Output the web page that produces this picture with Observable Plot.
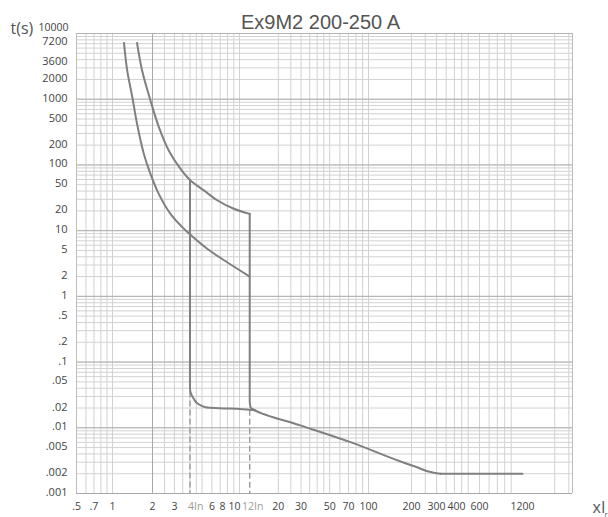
<!DOCTYPE html>
<html><head><meta charset="utf-8">
<script src="https://cdn.jsdelivr.net/npm/d3@7"></script>
<script src="https://cdn.jsdelivr.net/npm/@observablehq/plot@0.6"></script>
<style>body{margin:0;background:#fff}#chart svg{display:block}</style>
</head><body><div id="chart"></div>
<script>
const title = "Ex9M2 200-250 A";
const yUnit = "t(s)";
const xUnit = "xI";
const xUnitSub = "r";

// Thermal (min) curve: multiples of In, trip time in s
const thermalMinX = [1.22, 1.29, 1.41, 1.53, 1.72, 1.93, 2.25, 2.79, 3.47, 4.1, 5.5, 7.96, 12];
const thermalMinT = [7200, 2740, 1070, 423, 148, 73, 36, 18, 11.3, 8.4, 5.3, 3.3, 2];
// Thermal (max) curve
const thermalMaxX = [1.53, 1.67, 1.93, 2.25, 2.7, 3.36, 4, 5.17, 6.62, 9, 12];
const thermalMaxT = [7200, 2740, 957, 376, 166, 87, 59, 41, 29, 21.5, 18];
// Magnetic at 12In then instantaneous tail
const magHighX = [12, 12, 12.17, 13.3, 30, 72.5, 168, 219, 287, 320];
const magHighT = [18, 0.026, 0.0206, 0.0183, 0.0108, 0.00604, 0.00307, 0.00251, 0.00207, 0.002];
// Flat tail
const tailX = [320, 1200];
const tailT = [0.002, 0.002];
// Magnetic at 4In
const magLowX = [4, 4, 4.29, 4.6, 5.33, 12, 13.3];
const magLowT = [59, 0.04, 0.0276, 0.0234, 0.0206, 0.0188, 0.0183];
// Dashed guides
const guideX = [4, 12];
const guideTopT = [0.035, 0.0185];
const guideBottomT = [0.001, 0.001];

// Axis ticks
const xTicks = [0.5, 0.7, 1, 2, 3, 6, 20, 30, 50, 70, 100, 200, 300, 600, 1200];
const xTickLabels = [".5", ".7", "1", "2", "3", "6", "20", "30", "50", "70", "100", "200", "300", "600", "1200"];
const xTicksTight = [8, 10];
const xTicksTightLabels = ["8", "10"];
const xTicksWide = [400];
const xTicksWideLabels = ["400"];
const in4Tick = [4];
const in4Label = ["4In"];
const in12Tick = [12];
const in12Label = ["12In"];
const yTicks = [7200, 3600, 2000, 1000, 500, 200, 100, 50, 20, 10, 5, 2, 1, 0.5, 0.2, 0.1, 0.05, 0.02, 0.01, 0.005, 0.002, 0.001];
const yTickLabels = ["7200", "3600", "2000", "1000", "500", "200", "100", "50", "20", "10", "5", "2", "1", ".5", ".2", ".1", ".05", ".02", ".01", ".005", ".002", ".001"];
const yTopTick = [10000];
const yTopTickLabel = ["10000"];

// Grid
const xGridMultiples = [1, 2, 2.5, 3, 3.5, 4, 4.5, 5, 6, 7, 8, 9];
const xGridDecades = [0.1, 1, 10, 100, 1000];
const xMajorGrid = [2];
const yGridMultiples = [1, 2, 3, 4, 5, 6, 7, 8, 9];
const yGridDecades = [0.001, 0.01, 0.1, 1, 10, 100, 1000];
const yMajorGrid = [0.001, 0.01, 0.1, 1, 10, 100, 1000, 10000];

const xMin = 0.5, xMax = 2650;
const xGrid = xGridDecades.flatMap(d => xGridMultiples.map(m => +(m * d).toPrecision(6)))
  .filter(v => v >= xMin && v <= xMax);
const yGrid = yGridDecades.flatMap(d => yGridMultiples.map(m => +(m * d).toPrecision(6))).concat([10000]);

const pts = (xs, ts) => xs.map((x, i) => ({x, t: ts[i]}));
const lab = (vs, ls) => vs.map((v, i) => ({v, label: ls[i]}));
const minCurve = pts(thermalMinX, thermalMinT);
const maxCurve = pts(thermalMaxX, thermalMaxT);
const highCurve = pts(magHighX, magHighT);
const tailCurve = pts(tailX, tailT);
const lowCurve = pts(magLowX, magLowT);
const guides = guideX.map((x, i) => ({x, t1: guideTopT[i], t2: guideBottomT[i]}));

const curveColor = "#808080";
const font = "Open Sans";
const tickFont = 10.5;

const chart = Plot.plot({
  width: 608,
  height: 517,
  marginTop: 33,
  marginBottom: 24,
  marginLeft: 76,
  marginRight: 36,
  style: {fontFamily: font, background: "#fff"},
  x: {type: "log", domain: [xMin, 1, 2, 10, 100, 1200, xMax], range: [76, 112, 152, 239, 368, 522, 572], axis: null},
  y: {type: "log", domain: [0.001, 10000], axis: null},
  marks: [
    Plot.ruleY(yGrid, {y: d => d, stroke: "#d2d2d2", strokeWidth: 1}),
    Plot.ruleX(xGrid, {x: d => d, stroke: "#d2d2d2", strokeWidth: 1}),
    Plot.ruleY(yMajorGrid, {y: d => d, stroke: "#b2b2b2", strokeWidth: 1}),
    Plot.ruleX(xMajorGrid, {x: d => d, stroke: "#a8a8a8", strokeWidth: 1}),
    Plot.ruleX([xMin, xMax], {x: d => d, stroke: "#bdbdbd", strokeWidth: 1}),
    Plot.ruleY([0.001], {y: d => d, stroke: "#a8a8a8", strokeWidth: 1.2}),
    Plot.ruleX(guides, {x: "x", y1: "t1", y2: "t2", stroke: "#9a9a9a", strokeWidth: 1.4, strokeDasharray: "6,3"}),
    Plot.line(minCurve, {x: "x", y: "t", curve: "catmull-rom", stroke: curveColor, strokeWidth: 2}),
    Plot.line(maxCurve, {x: "x", y: "t", curve: "catmull-rom", stroke: curveColor, strokeWidth: 2}),
    Plot.line(highCurve, {x: "x", y: "t", curve: "monotone-y", stroke: curveColor, strokeWidth: 2}),
    Plot.line(tailCurve, {x: "x", y: "t", stroke: curveColor, strokeWidth: 2}),
    Plot.line(lowCurve, {x: "x", y: "t", curve: "monotone-y", stroke: curveColor, strokeWidth: 2}),
    Plot.text(lab(xTicks, xTickLabels), {x: "v", text: "label", frameAnchor: "bottom", dy: 9, lineAnchor: "top", fontSize: tickFont, fill: "#444"}),
    Plot.text(lab(xTicksTight, xTicksTightLabels), {x: "v", text: "label", frameAnchor: "bottom", dy: 9, dx: -5, lineAnchor: "top", fontSize: tickFont, fill: "#444"}),
    Plot.text(lab(xTicksWide, xTicksWideLabels), {x: "v", text: "label", frameAnchor: "bottom", dy: 9, dx: 2, lineAnchor: "top", fontSize: tickFont, fill: "#444"}),
    Plot.text(lab(in4Tick, in4Label), {x: "v", text: "label", frameAnchor: "bottom", dy: 9, dx: -2, textAnchor: "start", lineAnchor: "top", fontSize: tickFont, fill: "#9a9a9a"}),
    Plot.text(lab(in12Tick, in12Label), {x: "v", text: "label", frameAnchor: "bottom", dy: 9, dx: 3, lineAnchor: "top", fontSize: tickFont, fill: "#9a9a9a"}),
    Plot.text(lab(yTicks, yTickLabels), {y: "v", text: "label", frameAnchor: "left", dx: -9, dy: -1, textAnchor: "end", fontSize: 11, fill: "#444"}),
    Plot.text(lab(yTopTick, yTopTickLabel), {y: "v", text: "label", frameAnchor: "left", dx: -8, dy: -3, textAnchor: "end", lineAnchor: "bottom", fontSize: 10.5, fill: "#444"}),
    Plot.text([title], {frameAnchor: "top", dx: -4, dy: -5, lineAnchor: "bottom", fontSize: 20, fill: "#555", fontFamily: "Liberation Sans"}),
    Plot.text([yUnit], {frameAnchor: "top-left", dx: -66, dy: 0, textAnchor: "start", lineAnchor: "bottom", fontSize: 16, fill: "#555"}),
    Plot.text([xUnit], {frameAnchor: "bottom-right", dx: 20, dy: 19, textAnchor: "start", lineAnchor: "bottom", fontSize: 16, fill: "#555"}),
    Plot.text([xUnitSub], {frameAnchor: "bottom-right", dx: 32, dy: 23, textAnchor: "start", lineAnchor: "bottom", fontSize: 8, fill: "#555"})
  ]
});
document.getElementById("chart").appendChild(chart);
</script>
</body></html>
